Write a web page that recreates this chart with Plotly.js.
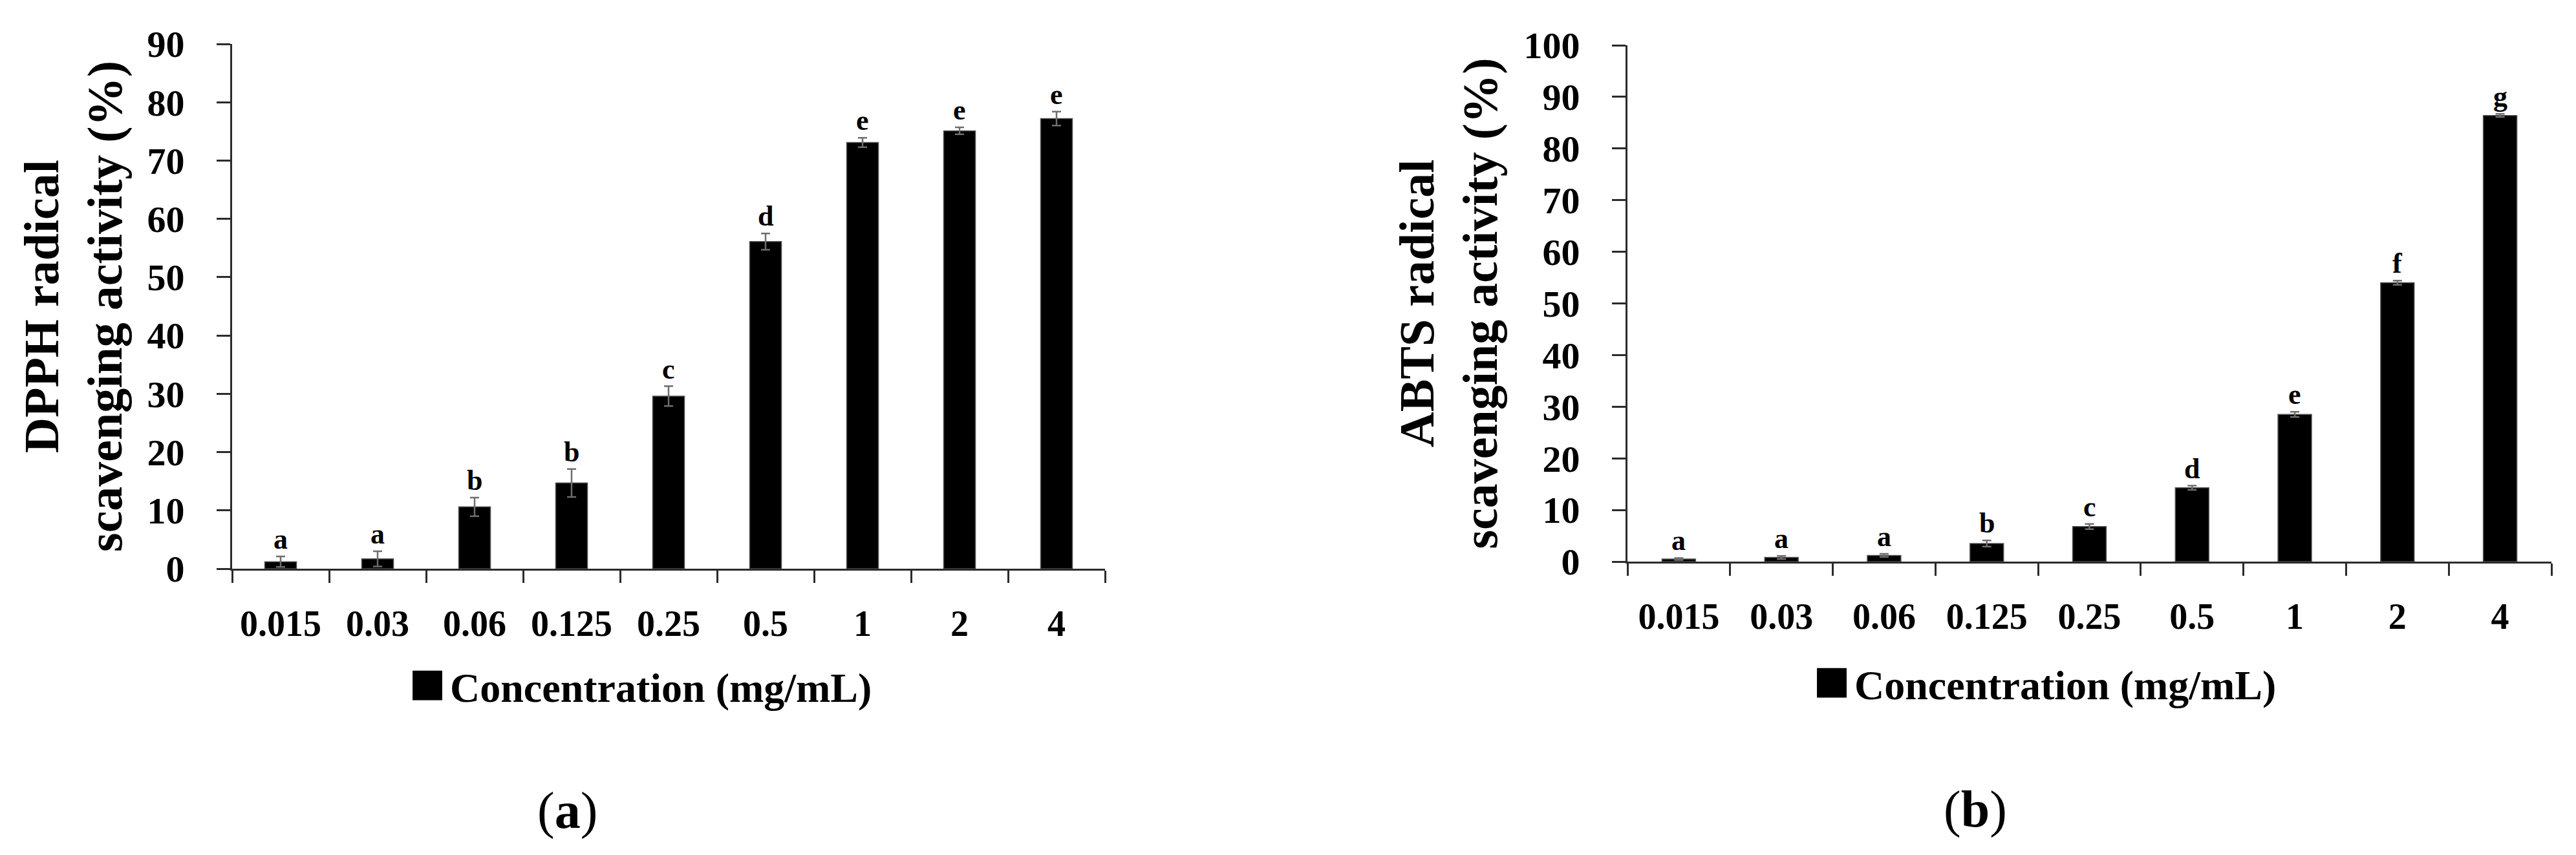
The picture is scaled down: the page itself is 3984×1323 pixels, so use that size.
<!DOCTYPE html>
<html>
<head>
<meta charset="utf-8">
<script src="https://cdn.plot.ly/plotly-3.0.1.min.js"></script>
<style>
  html, body { margin: 0; padding: 0; background: #fff; }
  #plot { width: 3984px; height: 1323px; }
</style>
</head>
<body>
<div id="plot"></div>
<script>
var concentrations = ["0.015", "0.03", "0.06", "0.125", "0.25", "0.5", "1", "2", "4"];

var dpphMean = [1.2, 1.7, 10.6, 14.7, 29.6, 56.1, 73.1, 75.1, 77.2];
var dpphErr = [0.9, 1.3, 1.6, 2.4, 1.7, 1.4, 0.8, 0.6, 1.2];
var dpphLetters = ["a", "a", "b", "b", "c", "d", "e", "e", "e"];

var abtsMean = [0.5, 0.8, 1.2, 3.5, 6.8, 14.3, 28.5, 54.0, 86.4];
var abtsErr = [0.2, 0.3, 0.3, 0.6, 0.5, 0.4, 0.5, 0.4, 0.3];
var abtsLetters = ["a", "a", "a", "b", "c", "d", "e", "f", "g"];

var serif = "Liberation Serif, Times New Roman, serif";
var W = 3984, H = 1323;

function barTrace(y, err, xa, ya, leg) {
    return {
        type: "bar",
        x: concentrations,
        y: y,
        xaxis: xa,
        yaxis: ya,
        legend: leg,
        name: "<b>Concentration (mg/mL)</b>",
        marker: { color: "#000000", line: { color: "#555555", width: 1.5 } },
        error_y: { type: "data", array: err, visible: true, color: "#6e6e6e", thickness: 2.5, width: 7 }
    };
}

// significance letters sit just above each error bar (x = category index)
function letterNotes(y, err, letters, xa, ya) {
    var notes = [];
    for (var i = 0; i < letters.length; i++) {
        notes.push({
            x: i,
            y: y[i] + err[i],
            xref: xa,
            yref: ya,
            text: "<b>" + letters[i] + "</b>",
            showarrow: false,
            yanchor: "bottom",
            yshift: 0,
            font: { family: serif, size: 44, color: "#000" }
        });
    }
    return notes;
}

function xAxis(domain, anchor) {
    return {
        domain: domain,
        anchor: anchor,
        type: "category",
        showline: true,
        linecolor: "#2b2b2b",
        linewidth: 3,
        ticks: "outside",
        tickson: "boundaries",
        ticklen: 19,
        tickwidth: 3,
        tickcolor: "#2b2b2b",
        ticklabelstandoff: 34,
        showgrid: false,
        zeroline: false,
        tickfont: { family: serif, size: 56, color: "#000", weight: "bold" }
    };
}

function yAxis(domain, anchor, top, title, standoff) {
    return {
        domain: domain,
        anchor: anchor,
        range: [0, top],
        dtick: 10,
        showline: true,
        linecolor: "#2b2b2b",
        linewidth: 3,
        ticks: "outside",
        ticklen: 21,
        tickwidth: 3,
        tickcolor: "#2b2b2b",
        ticklabelstandoff: 38,
        showgrid: false,
        zeroline: false,
        tickfont: { family: serif, size: 58, color: "#000", weight: "bold" },
        title: {
            text: title,
            standoff: standoff,
            font: { family: serif, size: 76, color: "#000" }
        }
    };
}

var traces = [
    barTrace(dpphMean, dpphErr, "x", "y", "legend"),
    barTrace(abtsMean, abtsErr, "x2", "y2", "legend2")
];

var layout = {
    width: W,
    height: H,
    margin: { l: 0, r: 0, t: 0, b: 0 },
    paper_bgcolor: "#ffffff",
    plot_bgcolor: "#ffffff",
    bargap: 0.673,
    showlegend: true,
    xaxis: xAxis([359 / W, 1709 / W], "y"),
    yaxis: yAxis([1 - 880 / H, 1 - 68 / H], "x", 90, "<b>DPPH radical<br>scavenging activity (%)</b>", 14),
    xaxis2: xAxis([2517 / W, 3946 / W], "y2"),
    yaxis2: yAxis([1 - 869 / H, 1 - 70 / H], "x2", 100, "<b>ABTS radical<br>scavenging activity (%)</b>", 16),
    legend: {
        x: 626 / W, y: 1 - 1061 / H, xanchor: "left", yanchor: "middle", itemwidth: 60,
        font: { family: serif, size: 64, color: "#000" }, bgcolor: "rgba(0,0,0,0)"
    },
    legend2: {
        x: 2798 / W, y: 1 - 1057 / H, xanchor: "left", yanchor: "middle", itemwidth: 60,
        font: { family: serif, size: 64, color: "#000" }, bgcolor: "rgba(0,0,0,0)"
    },
    annotations: letterNotes(dpphMean, dpphErr, dpphLetters, "x", "y")
        .concat(letterNotes(abtsMean, abtsErr, abtsLetters, "x2", "y2"))
        .concat([
            { x: 877 / W, y: 1 - 1254 / H, xref: "paper", yref: "paper", xanchor: "center", yanchor: "middle",
              text: "(<b>a</b>)", showarrow: false, font: { family: serif, size: 80, color: "#000" } },
            { x: 3055 / W, y: 1 - 1252 / H, xref: "paper", yref: "paper", xanchor: "center", yanchor: "middle",
              text: "(<b>b</b>)", showarrow: false, font: { family: serif, size: 80, color: "#000" } }
        ])
};

Plotly.newPlot("plot", traces, layout, { staticPlot: true }).then(function () {
    // bar legend swatch is a fixed 12px square; enlarge it to match the figure
    var swatches = document.querySelectorAll(".legendpoints path");
    swatches.forEach(function (p) {
        var t = p.getAttribute("transform") || "";
        p.setAttribute("transform", t + " scale(3.4)");
        p.style.stroke = "#000000";
    });
});
</script>
</body>
</html>
